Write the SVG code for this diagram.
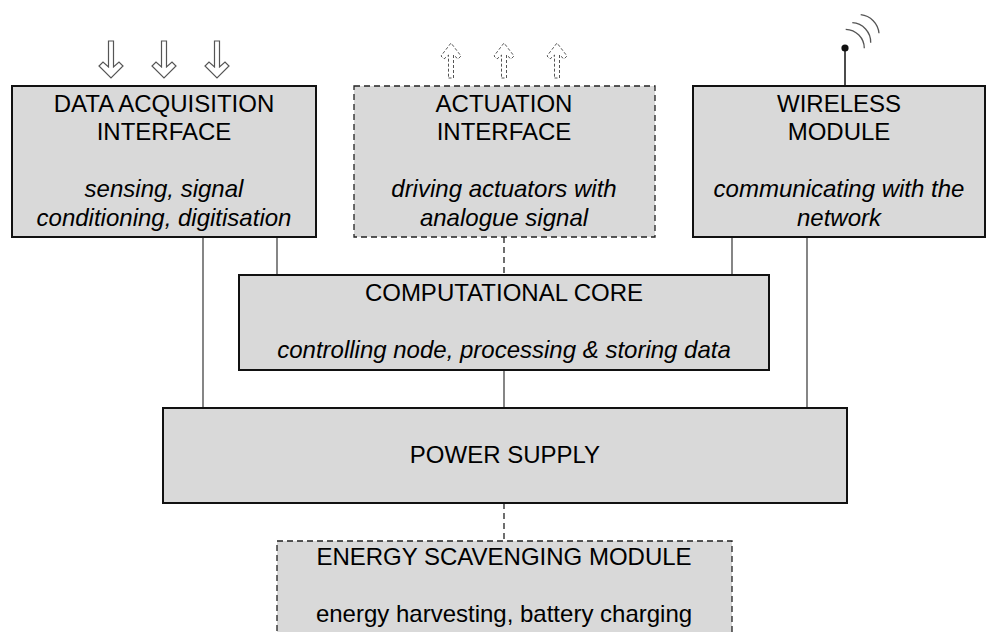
<svg xmlns="http://www.w3.org/2000/svg" width="988" height="632" viewBox="0 0 988 632">
  <style>
    .box { fill: #d9d9d9; stroke: #111; stroke-width: 2; }
    .dbox { fill: #d9d9d9; stroke: #222; stroke-width: 1.3; stroke-dasharray: 6 4; }
    .wire { fill: none; stroke: #222; stroke-width: 1.1; }
    .dwire { fill: none; stroke: #222; stroke-width: 1.3; stroke-dasharray: 6 4; }
    .t { font-family: "Liberation Sans", Arial, sans-serif; font-size: 24px; fill: #000; text-anchor: middle; }
    .i { font-style: italic; }
    .arrow-in { fill: #fff; stroke: #555; stroke-width: 1.2; }
    .arrow-out { fill: #fff; stroke: #555; stroke-width: 1; stroke-dasharray: 3 2; }
    .wave { fill: none; stroke: #555; stroke-width: 1.3; }
  </style>
  <defs>
    <polygon id="hollowDown" points="-2.5,41 2.5,41 2.5,67 8,62 12,66 0,78 -12,66 -8,62 -2.5,67"/>
    <polygon id="hollowUp" points="-2.5,78 2.5,78 2.5,55 7,59 10,56 0,43 -10,56 -7,59 -2.5,55"/>
  </defs>

  <rect width="988" height="632" fill="#fff"/>

  <!-- connectors -->
  <g id="connectors">
    <line class="wire" x1="203" y1="237" x2="203" y2="408"/>
    <line class="wire" x1="277" y1="237" x2="277" y2="275"/>
    <line class="dwire" x1="504" y1="237" x2="504" y2="275"/>
    <line class="wire" x1="732" y1="237" x2="732" y2="275"/>
    <line class="wire" x1="807" y1="237" x2="807" y2="408"/>
    <line class="wire" x1="504" y1="370" x2="504" y2="408"/>
    <line class="dwire" x1="504" y1="503" x2="504" y2="541"/>
  </g>

  <!-- incoming signal arrows -->
  <g id="inputs" class="arrow-in">
    <use href="#hollowDown" x="111"/>
    <use href="#hollowDown" x="164"/>
    <use href="#hollowDown" x="217"/>
  </g>

  <!-- outgoing actuation arrows -->
  <g id="outputs" class="arrow-out">
    <use href="#hollowUp" x="451"/>
    <use href="#hollowUp" x="504"/>
    <use href="#hollowUp" x="557"/>
  </g>

  <!-- antenna -->
  <g id="antenna">
    <line x1="845" y1="48" x2="845" y2="86" stroke="#111" stroke-width="1.5"/>
    <circle cx="845" cy="48" r="3.6" fill="#111"/>
    <path class="wave" d="M845.7,29.3 A19,19 0 0 1 864.3,48.3"/>
    <path class="wave" d="M852.3,22.7 A19.5,19.5 0 0 1 870.7,42.7"/>
    <path class="wave" d="M860.7,14.7 A20.5,20.5 0 0 1 879,33.3"/>
  </g>

  <g id="data-acquisition">
    <rect class="box" x="12" y="86" width="304" height="151"/>
    <text class="t" x="164" y="111.5">DATA ACQUISITION</text>
    <text class="t" x="164" y="140">INTERFACE</text>
    <text class="t i" x="164" y="197">sensing, signal</text>
    <text class="t i" x="164" y="225.5">conditioning, digitisation</text>
  </g>

  <g id="actuation">
    <rect class="dbox" x="354" y="86" width="301" height="151"/>
    <text class="t" x="504" y="111.5">ACTUATION</text>
    <text class="t" x="504" y="140">INTERFACE</text>
    <text class="t i" x="504" y="197">driving actuators with</text>
    <text class="t i" x="504" y="225.5">analogue signal</text>
  </g>

  <g id="wireless">
    <rect class="box" x="693" y="86" width="292" height="151"/>
    <text class="t" x="839" y="111.5">WIRELESS</text>
    <text class="t" x="839" y="140">MODULE</text>
    <text class="t i" x="839" y="197">communicating with the</text>
    <text class="t i" x="839" y="225.5">network</text>
  </g>

  <g id="core">
    <rect class="box" x="239" y="275" width="530" height="95"/>
    <text class="t" x="504" y="300.5">COMPUTATIONAL CORE</text>
    <text class="t i" x="504" y="357.5">controlling node, processing &amp; storing data</text>
  </g>

  <g id="power">
    <rect class="box" x="163" y="408" width="684" height="95"/>
    <text class="t" x="505" y="463">POWER SUPPLY</text>
  </g>

  <g id="scavenging">
    <rect class="dbox" x="277" y="541" width="455" height="110"/>
    <text class="t" x="504" y="564.5">ENERGY SCAVENGING MODULE</text>
    <text class="t" x="504" y="622">energy harvesting, battery charging</text>
  </g>
</svg>
